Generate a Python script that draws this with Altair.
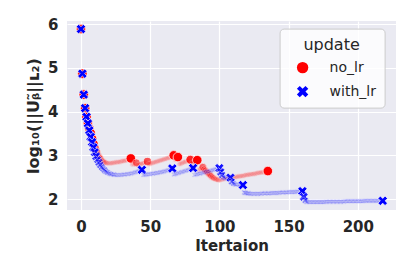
import altair as alt
import pandas as pd

# ---- data ----
# each series: list of segments (start iteration, values of log10 norm)
no_lr_segments = [
    (0, [5.89]), (1, [4.87]), (2, [4.39]), (3, [4.08]), (4, [3.88]),
    (5, [3.74]), (6, [3.62]), (7, [3.51]),
    (8, [3.38, 3.26, 3.16, 3.08, 3.01, 2.96, 2.92, 2.88, 2.86, 2.84, 2.83, 2.82,
         2.82, 2.82, 2.82, 2.83, 2.83, 2.84, 2.84, 2.85, 2.85, 2.86, 2.87, 2.87,
         2.88, 2.89, 2.90, 2.91, 2.93]),
    (37, [2.79, 2.80, 2.81, 2.83]),
    (41, [2.78, 2.79, 2.80, 2.81, 2.82, 2.83, 2.84, 2.86]),
    (49, [2.80, 2.81, 2.82, 2.83, 2.84, 2.85, 2.86, 2.87, 2.88, 2.89, 2.90, 2.91,
          2.92, 2.93, 2.94, 2.95, 2.96, 2.98, 3.00]),
    (68, [2.90, 2.93, 2.96]),
    (71, [2.80, 2.81, 2.82, 2.84, 2.85, 2.86, 2.87, 2.88, 2.90]),
    (80, [2.82, 2.84, 2.85, 2.87, 2.89]),
    (85, [2.66, 2.68, 2.70, 2.73]),
    (89, [2.68, 2.65, 2.62, 2.59, 2.56, 2.53, 2.50, 2.48, 2.46, 2.45, 2.44, 2.43,
          2.44, 2.45, 2.46, 2.46, 2.47, 2.47, 2.48, 2.48, 2.49, 2.50, 2.50, 2.51,
          2.51, 2.52, 2.52, 2.53, 2.53, 2.54, 2.55, 2.55, 2.56, 2.56, 2.57, 2.57,
          2.58, 2.58, 2.59, 2.60, 2.60, 2.61, 2.61, 2.62, 2.62, 2.63, 2.64]),
]

with_lr_segments = [
    (0, [5.89]), (1, [4.87]), (2, [4.39]), (3, [4.08]), (4, [3.88]),
    (5, [3.73]), (6, [3.57]),
    (7, [3.42, 3.30, 3.18, 3.07, 2.98, 2.90, 2.84, 2.78, 2.73, 2.69, 2.66, 2.63,
         2.61, 2.59, 2.58, 2.57, 2.56, 2.56, 2.55, 2.55, 2.55, 2.55, 2.55, 2.56,
         2.56, 2.56, 2.57, 2.57, 2.58, 2.58, 2.59, 2.60, 2.61, 2.62, 2.63, 2.64,
         2.65, 2.67]),
    (45, [2.55, 2.55, 2.56, 2.56, 2.57, 2.57, 2.58, 2.58, 2.59, 2.59, 2.60, 2.60,
          2.61, 2.62, 2.62, 2.63, 2.64, 2.65, 2.66, 2.67, 2.68, 2.70]),
    (67, [2.56, 2.57, 2.58, 2.59, 2.60, 2.61, 2.62, 2.63, 2.64, 2.65, 2.66, 2.67,
          2.68, 2.69, 2.71]),
    (82, [2.55, 2.56, 2.57, 2.58, 2.58, 2.59, 2.60, 2.61, 2.62, 2.63, 2.63, 2.64,
          2.65, 2.66, 2.67, 2.68, 2.69, 2.70, 2.71]),
    (101, [2.62, 2.55, 2.50, 2.48, 2.47, 2.47, 2.48, 2.49]),
    (109, [2.40, 2.36, 2.34, 2.33, 2.33, 2.33, 2.33, 2.32, 2.32]),
    (118, [2.15, 2.14, 2.13, 2.13, 2.12, 2.12, 2.12, 2.12, 2.12, 2.12, 2.12, 2.12,
           2.12, 2.13, 2.13, 2.13, 2.13, 2.13, 2.13, 2.13, 2.14, 2.14, 2.14, 2.14,
           2.14, 2.14, 2.15, 2.15, 2.15, 2.15, 2.15, 2.15, 2.16, 2.16, 2.16, 2.16,
           2.16, 2.16, 2.17, 2.17, 2.17, 2.17, 2.18]),
    (161, [2.05, 1.97, 1.94, 1.93] + [1.93] * 12 + [1.94] * 14 + [1.95] * 14 + [1.96] * 14),
]

series_names = ["no_lr", "with_lr"]
x_ticks = [0, 50, 100, 150, 200]
y_ticks = [2, 3, 4, 5, 6]


def build(name, segments):
    xs, ys = [], []
    for start, vals in segments:
        for i, v in enumerate(vals):
            xs.append(start + i)
            ys.append(v)
    rows = []
    for i in range(len(xs)):
        if i + 1 < len(xs):
            drop = max(ys[i] - ys[i + 1], 0.0)
        else:
            drop = 1.0
        rows.append({"Itertaion": xs[i], "value": ys[i], "update": name, "drop": drop})
    return rows


rows = build("no_lr", no_lr_segments) + build("with_lr", with_lr_segments)
df = pd.DataFrame(rows)

X_PATH = ("M-1,-0.5L-0.5,-1L0,-0.5L0.5,-1L1,-0.5L0.5,0L1,0.5L0.5,1L0,0.5"
          "L-0.5,1L-1,0.5L-0.5,0Z")

chart = alt.Chart(df).mark_point(
    filled=True, stroke="white", strokeWidth=0.7
).encode(
    x=alt.X("Itertaion:Q",
            scale=alt.Scale(domain=[-10.1, 227.6], nice=False, zero=False),
            axis=alt.Axis(values=x_ticks, title="Itertaion")),
    y=alt.Y("value:Q",
            scale=alt.Scale(domain=[1.749, 6.075], nice=False, zero=False),
            axis=alt.Axis(values=y_ticks, title="log₁₀(||Uᵦ̃||ʟ₂)")),
    color=alt.Color("update:N",
                    scale=alt.Scale(domain=series_names, range=["#ff0000", "#0000ff"]),
                    legend=alt.Legend(title="update")),
    shape=alt.Shape("update:N",
                    scale=alt.Scale(domain=series_names, range=["circle", X_PATH]),
                    legend=alt.Legend(title="update")),
    size=alt.Size("drop:Q", scale=alt.Scale(domain=[0, 0.1], range=[30, 90], clamp=True),
                  legend=None),
    opacity=alt.Opacity("drop:Q", scale=alt.Scale(domain=[0, 0.1], range=[0.15, 1], clamp=True),
                        legend=None),
).properties(
    width=329, height=189,
    autosize=alt.AutoSizeParams(type="none"),
    padding={"left": 59, "top": 13, "right": 11, "bottom": 59},
).configure_view(
    fill="#EAEAF2", stroke=None
).configure_axis(
    grid=True, gridColor="white", gridWidth=1.2, domain=False, ticks=False,
    labelFont="DejaVu Sans", labelFontWeight="bold", labelFontSize=15, labelColor="#262626",
    titleFont="DejaVu Sans", titleFontWeight="bold", titleFontSize=15, titleColor="#262626",
).configure_axisX(
    labelPadding=9, titlePadding=4
).configure_axisY(
    labelPadding=9, titlePadding=6, titleFontSize=16
).configure_legend(
    orient="none", legendX=212.6, legendY=7.6,
    fillColor="rgba(255,255,255,0.8)", strokeColor="#cccccc", cornerRadius=4,
    padding=8, titleFont="DejaVu Sans", titleFontWeight="normal", titleFontSize=16,
    titleColor="#262626", titleAnchor="middle", titleAlign="center", titlePadding=8,
    labelFont="DejaVu Sans", labelFontSize=14, labelColor="#262626",
    symbolSize=130, symbolOpacity=1, symbolStrokeColor="white", symbolStrokeWidth=0.7,
    symbolOffset=8, labelOffset=20, rowPadding=8,
)

chart.save("out.html", embed_options={"renderer": "svg", "actions": False})
